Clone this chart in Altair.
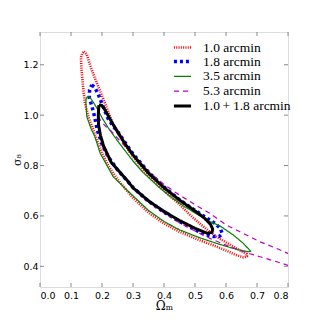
import altair as alt
import pandas as pd

SERIES = ["1.0 arcmin", "1.8 arcmin", "3.5 arcmin", "5.3 arcmin", "1.0\u2009+\u20091.8 arcmin"]

RED_X = [0.142, 0.151, 0.161, 0.177, 0.199, 0.220, 0.236, 0.264, 0.300, 0.350, 0.400, 0.450, 0.484,
         0.520, 0.550, 0.570, 0.600, 0.624, 0.650, 0.667, 0.668, 0.656, 0.630, 0.602, 0.570, 0.548,
         0.516, 0.450, 0.400, 0.350, 0.300, 0.250, 0.220, 0.200, 0.183, 0.172, 0.156, 0.145, 0.140,
         0.137, 0.134, 0.132, 0.136, 0.142]
RED_Y = [1.253, 1.240, 1.200, 1.147, 1.081, 1.014, 0.961, 0.902, 0.834, 0.760, 0.700, 0.646, 0.604,
         0.565, 0.535, 0.517, 0.495, 0.478, 0.460, 0.449, 0.440, 0.436, 0.446, 0.462, 0.478, 0.489,
         0.503, 0.537, 0.570, 0.613, 0.672, 0.745, 0.800, 0.852, 0.902, 0.942, 0.994, 1.048, 1.100,
         1.140, 1.180, 1.227, 1.245, 1.253]

BLUE_X = [0.167, 0.177, 0.188, 0.199, 0.210, 0.220, 0.235, 0.250, 0.300, 0.350, 0.400, 0.450, 0.500,
          0.540, 0.565, 0.582, 0.588, 0.578, 0.560, 0.530, 0.500, 0.450, 0.400, 0.350, 0.300, 0.250,
          0.220, 0.200, 0.185, 0.177, 0.172, 0.166, 0.159, 0.160, 0.167]
BLUE_Y = [1.120, 1.110, 1.082, 1.048, 1.014, 0.985, 0.958, 0.935, 0.846, 0.774, 0.715, 0.664, 0.622,
          0.590, 0.570, 0.550, 0.530, 0.518, 0.518, 0.527, 0.545, 0.578, 0.615, 0.658, 0.713, 0.783,
          0.835, 0.885, 0.940, 0.988, 1.014, 1.041, 1.068, 1.100, 1.120]

GREEN_X = [0.153, 0.160, 0.170, 0.185, 0.200, 0.220, 0.250, 0.300, 0.333, 0.380, 0.419, 0.460, 0.505,
           0.548, 0.581, 0.624, 0.655, 0.680, 0.672, 0.650, 0.624, 0.570, 0.516, 0.450, 0.400, 0.350,
           0.300, 0.280, 0.236, 0.194, 0.177, 0.165, 0.151, 0.148, 0.149, 0.153]
GREEN_Y = [1.074, 1.072, 1.055, 1.025, 0.990, 0.950, 0.898, 0.818, 0.772, 0.718, 0.678, 0.642, 0.608,
           0.578, 0.560, 0.524, 0.492, 0.460, 0.458, 0.463, 0.471, 0.491, 0.513, 0.545, 0.578, 0.622,
           0.680, 0.703, 0.756, 0.849, 0.915, 0.945, 0.994, 1.048, 1.065, 1.074]

MAGENTA_X = [0.188, 0.199, 0.215, 0.231, 0.260, 0.300, 0.344, 0.400, 0.441, 0.500, 0.548, 0.600, 0.645,
             0.710, 0.764, 0.800, 0.820, 0.820, 0.800, 0.764, 0.710, 0.656, 0.600, 0.550, 0.500, 0.450,
             0.400, 0.350, 0.300, 0.250, 0.220, 0.200, 0.190, 0.187, 0.188]
MAGENTA_Y = [0.995, 0.972, 0.952, 0.935, 0.895, 0.840, 0.783, 0.725, 0.690, 0.645, 0.610, 0.565, 0.537,
             0.497, 0.471, 0.451, 0.440, 0.397, 0.404, 0.418, 0.438, 0.458, 0.484, 0.510, 0.540, 0.573,
             0.612, 0.655, 0.710, 0.780, 0.830, 0.880, 0.940, 0.980, 0.995]

BLACK_X = [0.190, 0.200, 0.210, 0.220, 0.235, 0.250, 0.275, 0.300, 0.350, 0.400, 0.450, 0.500, 0.530,
           0.550, 0.557, 0.555, 0.540, 0.500, 0.450, 0.400, 0.350, 0.300, 0.280, 0.250, 0.230, 0.205,
           0.195, 0.189, 0.188, 0.190]
BLACK_Y = [1.040, 1.038, 1.020, 0.998, 0.965, 0.935, 0.885, 0.842, 0.770, 0.712, 0.663, 0.620, 0.592,
           0.567, 0.548, 0.535, 0.531, 0.551, 0.582, 0.618, 0.660, 0.712, 0.743, 0.785, 0.812, 0.878,
           0.920, 0.960, 1.000, 1.040]

X_TICKS = [0.0, 0.1, 0.2, 0.3, 0.4, 0.5, 0.6, 0.7, 0.8]
Y_TICKS = [0.4, 0.6, 0.8, 1.0, 1.2]

COLORS = ["#ff0000", "#0000ff", "#008000", "#bf00bf", "#000000"]
DASHES = [[1, 1.3], [3, 3], [1, 0], [5, 4], [1, 0]]
WIDTHS = [2.6, 3.5, 1.2, 1.2, 3.0]

curves = [(SERIES[0], RED_X, RED_Y), (SERIES[1], BLUE_X, BLUE_Y), (SERIES[2], GREEN_X, GREEN_Y),
          (SERIES[3], MAGENTA_X, MAGENTA_Y), (SERIES[4], BLACK_X, BLACK_Y)]
rows = []
for name, xs, ys in curves:
    for i, (x, y) in enumerate(zip(xs, ys)):
        rows.append({"series": name, "i": i, "om": x, "s8": y})
df = pd.DataFrame(rows)

W, H = 248, 255
xscale = alt.Scale(domain=[0, 0.8], nice=False, zero=False)
yscale = alt.Scale(domain=[0.318, 1.33], nice=False, zero=False)

color = alt.Color("series:N", scale=alt.Scale(domain=SERIES, range=COLORS),
                  legend=alt.Legend(title=None, orient="none", legendX=135, legendY=8,
                                    symbolType="M-1.5,0H1.5", symbolSize=130, padding=0,
                                    symbolFillColor="transparent",
                                    labelFont="Liberation Serif", labelFontSize=13.5,
                                    rowPadding=-0.3, labelOffset=13, labelColor="#000"))
dash = alt.StrokeDash("series:N", scale=alt.Scale(domain=SERIES, range=DASHES))
swidth = alt.StrokeWidth("series:N", scale=alt.Scale(type="ordinal", domain=SERIES, range=WIDTHS))

xax = alt.Axis(values=X_TICKS, format=".1f", title="Ωₘ", grid=False, ticks=False, tickSize=0,
               domain=False, labelFont="DejaVu Sans", labelFontSize=9.5, labelPadding=3,
               titleFont="DejaVu Serif", titleFontSize=12, titleFontWeight="normal",
               titlePadding=1, labelColor="#000", titleColor="#000")
yax = alt.Axis(values=Y_TICKS, format=".1f", title="σ₈", grid=False, ticks=False, tickSize=0,
               domain=False, labelFont="DejaVu Sans", labelFontSize=9.5, labelPadding=2,
               titleFont="DejaVu Serif", titleFontSize=11, titleFontWeight="normal",
               titlePadding=0, labelColor="#000", titleColor="#000")

layers = []
for k, name in enumerate(SERIES):
    enc = dict(
        x=alt.X("om:Q", scale=xscale, axis=xax),
        y=alt.Y("s8:Q", scale=yscale, axis=yax),
        order="i:Q", color=color, strokeDash=dash, strokeWidth=swidth,
    )
    layers.append(
        alt.Chart(df).transform_filter(alt.datum.series == name)
        .mark_line(clip=True, strokeCap="butt", strokeJoin="round").encode(**enc)
    )

xt = pd.DataFrame({"v": X_TICKS})
yt = pd.DataFrame({"v": Y_TICKS})
tick_color = "#888"
ticks = [
    alt.Chart(xt).mark_rule(color=tick_color, strokeWidth=1).encode(
        x=alt.X("v:Q", scale=xscale, axis=xax), y=alt.value(H), y2=alt.value(H - 4)),
    alt.Chart(xt).mark_rule(color=tick_color, strokeWidth=1).encode(
        x=alt.X("v:Q", scale=xscale, axis=xax), y=alt.value(0), y2=alt.value(4)),
    alt.Chart(yt).mark_rule(color=tick_color, strokeWidth=1).encode(
        y=alt.Y("v:Q", scale=yscale, axis=yax), x=alt.value(0), x2=alt.value(4)),
    alt.Chart(yt).mark_rule(color=tick_color, strokeWidth=1).encode(
        y=alt.Y("v:Q", scale=yscale, axis=yax), x=alt.value(W), x2=alt.value(W - 4)),
]

chart = alt.layer(*layers, *ticks).properties(
    width=W, height=H, autosize=alt.AutoSizeParams(type="none"),
    padding={"left": 32, "top": 24, "right": 24, "bottom": 30},
).configure_view(stroke="#999", strokeWidth=1.2).configure(background="white")

chart.save("out.html", embed_options={"renderer": "svg", "actions": False})
